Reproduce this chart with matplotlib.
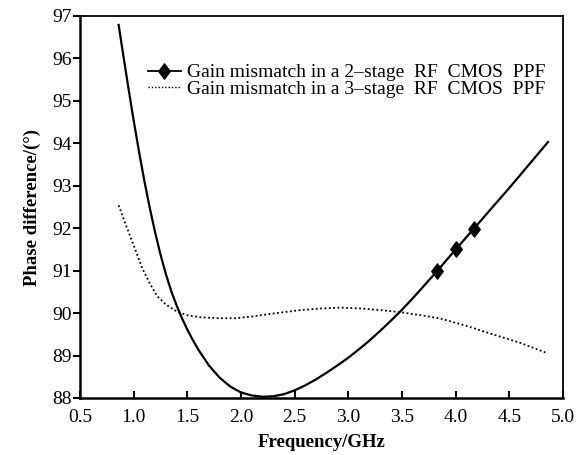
import matplotlib
matplotlib.use("Agg")
import matplotlib.pyplot as plt
from matplotlib.lines import Line2D
from matplotlib.path import Path

# Data
solid_x = [0.86, 0.90, 0.95, 1.00, 1.05, 1.10, 1.15, 1.20, 1.25, 1.30, 1.35, 1.40,
           1.45, 1.50, 1.55, 1.60, 1.70, 1.80, 1.90, 2.00, 2.10, 2.20, 2.30, 2.40,
           2.50, 2.60, 2.70, 2.80, 2.90, 3.00, 3.10, 3.20, 3.30, 3.40, 3.50, 3.60,
           3.70, 3.83, 4.00, 4.17, 4.30, 4.50, 4.70, 4.86]
solid_y = [96.79, 96.13, 95.32, 94.54, 93.80, 93.11, 92.48, 91.90, 91.38, 90.92,
           90.52, 90.18, 89.88, 89.61, 89.37, 89.15, 88.77, 88.48, 88.27, 88.13,
           88.06, 88.03, 88.04, 88.09, 88.18, 88.30, 88.44, 88.60, 88.77, 88.95,
           89.15, 89.36, 89.59, 89.83, 90.08, 90.35, 90.63, 91.00, 91.50, 91.99,
           92.37, 92.95, 93.55, 94.03]
marker_x = [3.83, 4.00, 4.17]
marker_y = [91.00, 91.50, 91.99]

dot_x = [0.86, 0.93, 1.00, 1.08, 1.15, 1.22, 1.30, 1.40, 1.50, 1.63, 1.80, 1.95,
         2.10, 2.30, 2.55, 2.75, 2.93, 3.11, 3.30, 3.49, 3.70, 3.86, 4.10, 4.32,
         4.60, 4.86]
dot_y = [92.54, 92.06, 91.60, 91.06, 90.70, 90.40, 90.20, 90.04, 89.95, 89.90,
         89.88, 89.88, 89.92, 89.99, 90.07, 90.11, 90.13, 90.11, 90.07, 90.02,
         89.94, 89.87, 89.70, 89.52, 89.30, 89.05]

label_2 = "Gain mismatch in a 2\u2013stage  RF  CMOS  PPF"
label_3 = "Gain mismatch in a 3\u2013stage  RF  CMOS  PPF"
x_ticks = [0.5, 1.0, 1.5, 2.0, 2.5, 3.0, 3.5, 4.0, 4.5, 5.0]
y_ticks = [88, 89, 90, 91, 92, 93, 94, 95, 96, 97]

plt.rcParams['font.family'] = ['Liberation Serif', 'DejaVu Serif']

diamond = Path([(0, 1), (0.75, 0), (0, -1), (-0.75, 0), (0, 1)],
               [Path.MOVETO, Path.LINETO, Path.LINETO, Path.LINETO, Path.CLOSEPOLY])

fig = plt.figure(figsize=(5.86, 4.55), dpi=100)
ax = fig.add_axes([80/586, 1 - 398/455, 483/586, 382/455])

ax.plot(solid_x, solid_y, color='black', lw=1.6, zorder=3,
        solid_joinstyle='round')
ax.plot(marker_x, marker_y, linestyle='none', marker=diamond, color='black',
        markersize=11, zorder=4)
ax.plot(dot_x, dot_y, color='black', lw=1.3, linestyle=(0, (1, 1.4)), zorder=2)

h2 = Line2D([], [], color='black', lw=1.3, marker=diamond, markersize=11)
h3 = Line2D([], [], color='black', lw=1.0, linestyle=(0, (1, 1.4)))
leg = ax.legend([h2, h3], [label_2, label_3], loc='upper left',
                bbox_to_anchor=(0.14, 0.875), frameon=False, fontsize=14,
                handlelength=1.7, handletextpad=0.3, labelspacing=-0.05,
                borderaxespad=0, borderpad=0)

ax.set_xlim(0.5, 5.0)
ax.set_ylim(88, 97)
ax.set_xticks(x_ticks)
ax.set_xticklabels([f"{v:.1f}" for v in x_ticks])
ax.set_yticks(y_ticks)
ax.set_yticklabels([str(v) for v in y_ticks])

ax.tick_params(axis='x', direction='in', length=5, width=1.5, pad=8,
               labelsize=14, top=False)
ax.tick_params(axis='y', direction='out', length=5, width=1.5, pad=1,
               labelsize=14, right=False)

for s in ['left', 'bottom']:
    ax.spines[s].set_linewidth(1.8)
for s in ['top', 'right']:
    ax.spines[s].set_linewidth(1.3)

ax.set_xlabel("Frequency/GHz", fontsize=13.5, fontweight='bold', labelpad=6)
ax.set_ylabel("Phase difference/(\u00b0)", fontsize=13.5, fontweight='bold',
              labelpad=8)

fig.savefig("out.png", dpi=100)
